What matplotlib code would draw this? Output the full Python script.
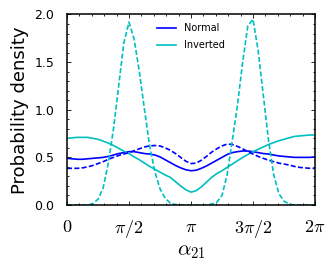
import matplotlib
matplotlib.use("Agg")
import matplotlib.pyplot as plt
from matplotlib.ticker import MultipleLocator
import numpy as np

plt.rcParams['mathtext.fontset'] = 'cm'
plt.rcParams['font.family'] = 'DejaVu Sans'

alpha = np.linspace(0, 2 * np.pi, 49)

normal_solid = [0.49, 0.485, 0.48, 0.48, 0.485, 0.49, 0.495, 0.50, 0.51, 0.525,
                0.54, 0.55, 0.56, 0.56, 0.55, 0.54, 0.535, 0.525, 0.505, 0.475,
                0.445, 0.415, 0.39, 0.37, 0.36, 0.365, 0.385, 0.41, 0.44, 0.47,
                0.50, 0.53, 0.55, 0.56, 0.567, 0.567, 0.56, 0.55, 0.54, 0.535,
                0.525, 0.515, 0.51, 0.505, 0.50, 0.50, 0.50, 0.50, 0.505]

normal_dashed = [0.385, 0.385, 0.385, 0.39, 0.40, 0.415, 0.435, 0.455, 0.48, 0.50,
                 0.52, 0.535, 0.55, 0.57, 0.59, 0.61, 0.62, 0.625, 0.62, 0.60,
                 0.575, 0.54, 0.50, 0.46, 0.435, 0.44, 0.47, 0.51, 0.555, 0.59,
                 0.62, 0.64, 0.635, 0.615, 0.59, 0.56, 0.535, 0.51, 0.49, 0.47,
                 0.455, 0.44, 0.43, 0.42, 0.405, 0.395, 0.39, 0.385, 0.385]

inverted_solid = [0.70, 0.705, 0.71, 0.71, 0.71, 0.70, 0.69, 0.67, 0.65, 0.625,
                  0.595, 0.565, 0.54, 0.505, 0.475, 0.44, 0.405, 0.375, 0.345, 0.315,
                  0.29, 0.245, 0.20, 0.16, 0.135, 0.15, 0.19, 0.24, 0.29, 0.33,
                  0.36, 0.395, 0.43, 0.465, 0.50, 0.53, 0.56, 0.585, 0.61, 0.635,
                  0.655, 0.675, 0.69, 0.705, 0.72, 0.725, 0.73, 0.735, 0.735]

inverted_dashed = [0.0, 0.0, 0.0, 0.0, 0.0, 0.015, 0.06, 0.18, 0.44, 0.80,
                   1.25, 1.70, 1.92, 1.74, 1.40, 1.00, 0.62, 0.35, 0.17, 0.07,
                   0.02, 0.005, 0.0, 0.0, 0.0, 0.0, 0.0, 0.0, 0.01, 0.03,
                   0.10, 0.32, 0.68, 1.05, 1.50, 1.88, 1.95, 1.62, 1.15, 0.68,
                   0.32, 0.12, 0.04, 0.01, 0.0, 0.0, 0.0, 0.0, 0.0]

xtick_pos = [0, np.pi / 2, np.pi, 3 * np.pi / 2, 2 * np.pi]
xtick_labels = ['$0$', r'$\pi/2$', r'$\pi$', r'$3\pi/2$', r'$2\pi$']

blue = '#0000ff'
cyan = '#00bfbf'

fig = plt.figure(figsize=(3.32, 2.67), dpi=100)
ax = fig.add_axes([0.2018, 0.2322, 0.747, 0.7135])

dash = (0, (3, 1.4))
ax.plot(alpha, normal_solid, color=blue, lw=1.2, label='Normal')
ax.plot(alpha, inverted_solid, color=cyan, lw=1.2, label='Inverted')
ax.plot(alpha, normal_dashed, color=blue, lw=1.2, ls=dash)
ax.plot(alpha, inverted_dashed, color=cyan, lw=1.2, ls=dash)

ax.set_xlim(0, 2 * np.pi)
ax.set_ylim(0, 2.0)
ax.set_xticks(xtick_pos)
ax.set_xticklabels(xtick_labels, fontsize=13)
ax.set_yticks([0.0, 0.5, 1.0, 1.5, 2.0])
ax.set_yticklabels(['0.0', '0.5', '1.0', '1.5', '2.0'], fontsize=9)
ax.xaxis.set_minor_locator(MultipleLocator(np.pi / 10))
ax.yaxis.set_minor_locator(MultipleLocator(0.1))
ax.tick_params(which='both', direction='in', top=True, right=True, width=0.6)
ax.tick_params(which='major', length=3)
ax.tick_params(which='minor', length=1.5)
ax.tick_params(axis='x', which='major', pad=9)
ax.tick_params(axis='y', which='major', pad=9)
for s in ax.spines.values():
    s.set_linewidth(1.1)

ax.set_xlabel(r'$\alpha_{21}$', fontsize=15, labelpad=1)
ax.set_ylabel('Probability density', fontsize=13, labelpad=4)

ax.legend(loc='upper center', bbox_to_anchor=(0.5, 1.0), frameon=False,
          fontsize=7, handlelength=2.0, labelspacing=0.7)

fig.savefig('out.png', dpi=100)
